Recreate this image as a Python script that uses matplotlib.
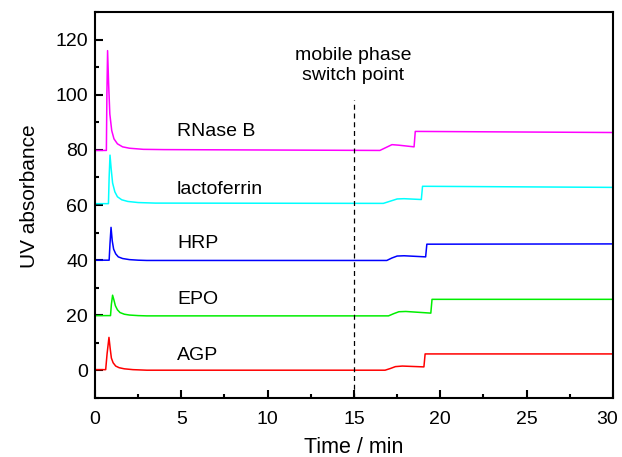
import matplotlib
matplotlib.use("Agg")
import matplotlib.pyplot as plt
from matplotlib.ticker import MultipleLocator, FuncFormatter

plt.rcParams['font.family'] = ['Liberation Sans', 'DejaVu Sans']

# Read-off points (time in min, absorbance) for each trace
agp_t = [0, 0.62, 0.70, 0.81, 0.88, 0.95, 1.05, 1.2, 1.4, 1.7, 2.2, 3.0, 16.8, 17.1, 17.4, 17.8, 19.05, 19.12, 30]
agp_y = [0.3, 0.3, 6.0, 12.0, 8.0, 4.5, 2.8, 1.6, 1.0, 0.6, 0.3, 0.1, 0.1, 0.7, 1.4, 1.6, 1.3, 6.0, 6.0]

epo_t = [0, 0.90, 0.95, 1.02, 1.10, 1.18, 1.3, 1.45, 1.7, 2.0, 2.5, 3.0, 17.0, 17.3, 17.6, 18.0, 19.45, 19.52, 30]
epo_y = [19.9, 19.9, 24.0, 27.3, 25.5, 23.5, 22.0, 21.0, 20.4, 20.1, 19.9, 19.8, 19.8, 20.6, 21.3, 21.4, 20.8, 25.8, 25.8]

hrp_t = [0, 0.82, 0.87, 0.93, 1.00, 1.08, 1.2, 1.35, 1.6, 2.0, 2.5, 3.0, 16.9, 17.2, 17.5, 17.9, 19.15, 19.22, 30]
hrp_y = [40.0, 40.0, 46.0, 51.9, 47.0, 44.0, 42.3, 41.2, 40.6, 40.2, 40.0, 39.9, 39.9, 40.8, 41.5, 41.6, 41.2, 45.8, 45.9]

lac_t = [0, 0.78, 0.82, 0.87, 0.94, 1.02, 1.15, 1.3, 1.55, 1.9, 2.5, 3.5, 16.7, 17.1, 17.5, 17.9, 18.9, 18.97, 30]
lac_y = [60.5, 60.5, 70.0, 78.1, 73.0, 68.0, 64.8, 63.0, 61.9, 61.3, 60.9, 60.7, 60.6, 61.4, 62.2, 62.3, 62.0, 66.8, 66.4]

rnase_t = [0, 0.66, 0.69, 0.73, 0.79, 0.86, 0.97, 1.1, 1.3, 1.6, 2.0, 2.8, 4.0, 16.5, 16.9, 17.2, 17.6, 18.48, 18.55, 30]
rnase_y = [79.8, 79.8, 100.0, 116.0, 104.0, 93.0, 87.0, 84.0, 82.2, 81.1, 80.6, 80.2, 80.1, 79.8, 81.0, 81.9, 81.7, 81.1, 86.7, 86.3]

series = [
    ("AGP", agp_t, agp_y, "#ff0000", 5.4),
    ("EPO", epo_t, epo_y, "#00ee00", 25.9),
    ("HRP", hrp_t, hrp_y, "#0000ff", 46.1),
    ("lactoferrin", lac_t, lac_y, "#00ffff", 65.6),
    ("RNase B", rnase_t, rnase_y, "#ff00ff", 86.6),
]

switch_time = 15
x_max = 30

fig = plt.figure(figsize=(6.22, 4.57), dpi=100)
ax = fig.add_axes([0.1527, 0.129, 0.8328, 0.8447])

for name, t, y, c, ly in series:
    ax.plot(t, y, color=c, lw=1.1)
    ax.text(4.75, ly, name, fontsize=14, ha='left', va='center')

ax.plot([switch_time, switch_time], [-10, 98], ls=(0, (4, 3)), color='black', lw=0.9)
ax.text(14.95, 110.5, "mobile phase\nswitch point", fontsize=14, ha='center', va='center', linespacing=1.25)

ax.set_xlim(0, x_max)
ax.set_ylim(-10, 130)
ax.xaxis.set_major_locator(MultipleLocator(5))
ax.xaxis.set_minor_locator(MultipleLocator(2.5))
ax.xaxis.set_major_formatter(FuncFormatter(lambda v, p: '' if abs(v - x_max) < 1e-9 else f'{v:g}'))
ax.set_yticks([0, 20, 40, 60, 80, 100, 120])
ax.yaxis.set_minor_locator(MultipleLocator(10))
ax.tick_params(which='both', direction='in', width=1.5, labelsize=14)
ax.tick_params(which='major', length=6)
ax.tick_params(which='minor', length=3)
ax.tick_params(axis='x', pad=9)
ax.tick_params(axis='y', pad=5)
for s in ax.spines.values():
    s.set_linewidth(1.5)

# last x tick label, nudged left so it stays inside the figure
ax.annotate(f'{x_max:g}', xy=(x_max, 0), xycoords=('data', 'axes fraction'),
            xytext=(-4, -9), textcoords='offset points', ha='center', va='top',
            fontsize=14, annotation_clip=False)

ax.set_xlabel("Time / min", fontsize=15.5, labelpad=7)
ax.set_ylabel("UV absorbance", fontsize=15)
ax.yaxis.set_label_coords(-0.108, 0.523)

fig.savefig("out.png", dpi=100)
